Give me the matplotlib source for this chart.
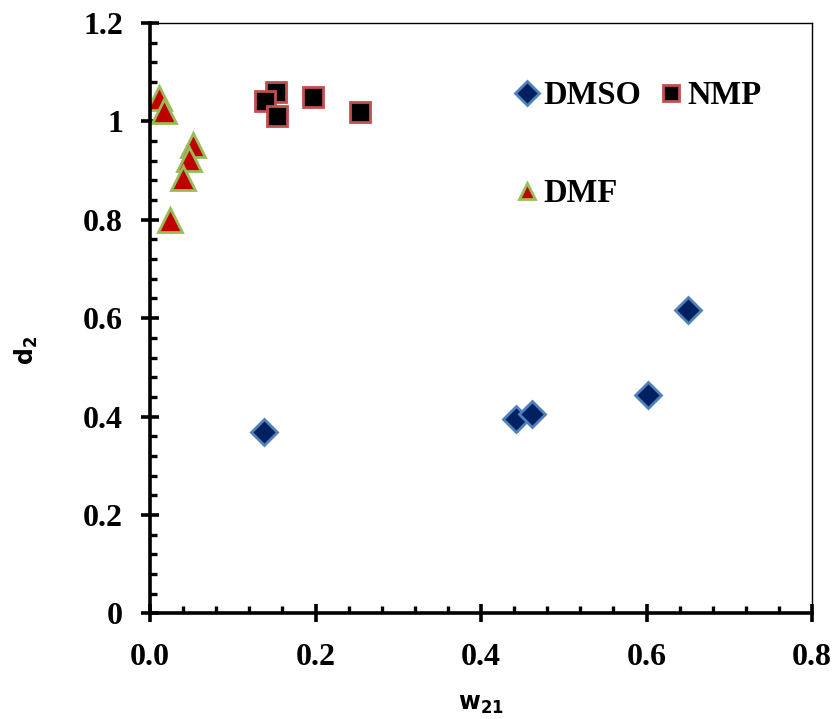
import matplotlib
matplotlib.use('Agg')
import matplotlib.pyplot as plt
from matplotlib.ticker import MultipleLocator, FixedLocator

# data
dmso_w = [0.138, 0.442, 0.462, 0.602, 0.650]
dmso_d = [0.368, 0.395, 0.405, 0.443, 0.616]

nmp_w = [0.152, 0.139, 0.153, 0.197, 0.254]
nmp_d = [1.060, 1.041, 1.011, 1.049, 1.019]

dmf_w = [0.011, 0.017, 0.052, 0.047, 0.040, 0.024]
dmf_d = [1.047, 1.021, 0.952, 0.923, 0.885, 0.799]

x_ticks = [0.0, 0.2, 0.4, 0.6, 0.8]
x_labels = ['0.0', '0.2', '0.4', '0.6', '0.8']
y_ticks = [0, 0.2, 0.4, 0.6, 0.8, 1.0, 1.2]
y_labels = ['0', '0.2', '0.4', '0.6', '0.8', '1', '1.2']

plt.rcParams['mathtext.fontset'] = 'dejavusans'
plt.rcParams['mathtext.default'] = 'bf'

fig = plt.figure(figsize=(8.38, 7.19), dpi=100)
ax = fig.add_axes([0.179, 0.147, 0.790, 0.821])

h1, = ax.plot(dmso_w, dmso_d, 'D', ms=13, mfc='#002060', mec='#4F81BD', mew=2, ls='none', label='DMSO')
h2, = ax.plot(nmp_w, nmp_d, 's', ms=14, mfc='black', mec='#C0504D', mew=2, ls='none', label='NMP')
h3, = ax.plot(dmf_w, dmf_d, '^', ms=17, mfc='#C00000', mec='#9BBB59', mew=2, ls='none', label='DMF')

ax.set_xlim(0, 0.8)
ax.set_ylim(0, 1.2)
ax.xaxis.set_major_locator(FixedLocator(x_ticks))
ax.yaxis.set_major_locator(FixedLocator(y_ticks))
ax.set_xticklabels(x_labels)
ax.set_yticklabels(y_labels)
ax.xaxis.set_minor_locator(MultipleLocator(0.04))
ax.yaxis.set_minor_locator(MultipleLocator(0.04))

for s in ['left', 'bottom']:
    ax.spines[s].set_linewidth(2.6)
for s in ['top', 'right']:
    ax.spines[s].set_linewidth(1.0)

ax.tick_params(which='major', direction='inout', length=13, width=2.6, top=False, right=False)
ax.tick_params(axis='x', which='major', pad=15)
ax.tick_params(axis='y', which='major', pad=13)
ax.tick_params(which='minor', direction='in', length=5, width=2.4, top=False, right=False)
for lab in ax.get_xticklabels() + ax.get_yticklabels():
    lab.set_fontfamily('Liberation Serif')
    lab.set_fontweight('bold')
    lab.set_fontsize(23)

fig.text(481 / 838, 1 - 704 / 719, r'w$_{21}$', fontsize=17, fontfamily='DejaVu Sans',
         fontweight='bold', ha='center', va='center')
fig.text(26 / 838, 1 - 350 / 719, r'd$_{2}$', fontsize=17, fontfamily='DejaVu Sans',
         fontweight='bold', ha='center', va='center', rotation=90)

leg = ax.legend([h1, h3, h2], ['DMSO', 'DMF', 'NMP'], ncol=2, loc='upper left',
                bbox_to_anchor=(0.51, 0.953), frameon=False, handlelength=0.6,
                handletextpad=0.2, columnspacing=0.62, labelspacing=2.05,
                prop={'family': 'Liberation Serif', 'weight': 'bold', 'size': 23.5})
for h in leg.legend_handles:
    h.set_markersize(12)

fig.savefig('out.png', dpi=100)
